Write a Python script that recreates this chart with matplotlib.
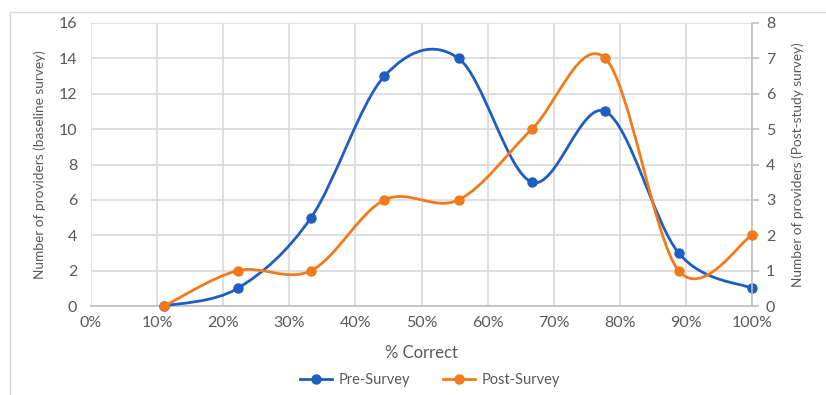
import matplotlib
matplotlib.use("Agg")
import matplotlib.pyplot as plt
from matplotlib.path import Path
from matplotlib.patches import PathPatch, Rectangle
from matplotlib.lines import Line2D
import numpy as np

plt.rcParams['font.family'] = ['Lato', 'DejaVu Sans']

# Data
pct_correct = [11.1, 22.2, 33.3, 44.4, 55.6, 66.7, 77.8, 88.9, 100.0]
pre_survey = [0, 1, 5, 13, 14, 7, 11, 3, 1]
post_survey = [0, 1, 1, 3, 3, 5, 7, 1, 2]
x_ticks = [0, 10, 20, 30, 40, 50, 60, 70, 80, 90, 100]
x_tick_labels = ['0%', '10%', '20%', '30%', '40%', '50%', '60%', '70%', '80%', '90%', '100%']
left_ticks = [0, 2, 4, 6, 8, 10, 12, 14, 16]
right_ticks = [0, 1, 2, 3, 4, 5, 6, 7, 8]

BLUE = '#1F5DC0'
ORANGE = '#F27A1A'
GRID = '#D9D9D9'
TXT = '#595959'


def smooth_path(x, y):
    pts = np.column_stack([x, y]).astype(float)
    n = len(pts)
    verts = [pts[0]]
    codes = [Path.MOVETO]
    for i in range(n - 1):
        p0 = pts[i - 1] if i > 0 else pts[i]
        p1 = pts[i]
        p2 = pts[i + 1]
        p3 = pts[i + 2] if i + 2 < n else pts[i + 1]
        c1 = p1 + (p2 - p0) / 6.0
        c2 = p2 - (p3 - p1) / 6.0
        verts += [c1, c2, p2]
        codes += [Path.CURVE4] * 3
    return Path(np.array(verts), codes)


fig = plt.figure(figsize=(8.26, 3.95), dpi=100)
ax = fig.add_axes([91 / 826, 1 - 306 / 395, (752 - 91) / 826, (306 - 23) / 395])
ax2 = ax.twinx()

# outer chart border
fig.patches.append(Rectangle((10 / 826, -0.1), 1.2, 1 - 12 / 395 + 0.1,
                             transform=fig.transFigure, fill=False,
                             edgecolor='#D9D9D9', linewidth=1.0))

ax.set_xlim(0, 100)
ax.set_ylim(0, 16)
ax2.set_ylim(0, 8)

ax.set_xticks(x_ticks)
ax.set_xticklabels(x_tick_labels)
ax.set_yticks(left_ticks)
ax2.set_yticks(right_ticks)

ax.grid(True, color=GRID, linewidth=1.2)
ax.set_axisbelow(True)

for a in (ax, ax2):
    for s in ('top', 'left', 'right', 'bottom'):
        a.spines[s].set_visible(False)
ax.spines['bottom'].set_visible(True)
ax.spines['bottom'].set_color('#BFBFBF')
ax.spines['bottom'].set_linewidth(1.2)
ax2.spines['right'].set_visible(True)
ax2.spines['right'].set_color('#BFBFBF')
ax2.spines['right'].set_linewidth(1.2)

ax.tick_params(axis='x', length=0, pad=7, labelsize=11.5, labelcolor=TXT)
ax.tick_params(axis='y', length=0, pad=10, labelsize=11.5, labelcolor=TXT)
ax2.tick_params(axis='y', length=5, width=1.2, color='#BFBFBF', pad=5,
                labelsize=11.5, labelcolor=TXT)

ax.set_ylabel('Number of providers (baseline survey)', fontsize=9.8, color=TXT, labelpad=9)
ax2.set_ylabel('Number of providers (Post-study survey)', fontsize=9.8, color=TXT, labelpad=12)
ax.set_xlabel('% Correct', fontsize=12, color=TXT, labelpad=11)

# Pre-survey (primary axis)
ax.add_patch(PathPatch(smooth_path(pct_correct, pre_survey), facecolor='none',
                       edgecolor=BLUE, linewidth=2.0, clip_on=False, zorder=3))
ax.plot(pct_correct, pre_survey, linestyle='none', marker='o', markersize=6.5,
        color=BLUE, clip_on=False, zorder=4)

# Post-survey (secondary axis)
ax2.add_patch(PathPatch(smooth_path(pct_correct, post_survey), facecolor='none',
                        edgecolor=ORANGE, linewidth=2.0, clip_on=False, zorder=3))
ax2.plot(pct_correct, post_survey, linestyle='none', marker='o', markersize=6.5,
         color=ORANGE, clip_on=False, zorder=4)

handles = [Line2D([], [], color=BLUE, lw=2, marker='o', markersize=6.5),
           Line2D([], [], color=ORANGE, lw=2, marker='o', markersize=6.5)]
fig.legend(handles, ['Pre-Survey', 'Post-Survey'], loc='center',
           bbox_to_anchor=(430 / 826, 1 - 380 / 395), ncol=2, frameon=False,
           fontsize=10.5, labelcolor=TXT, handlelength=2.2, columnspacing=2.3,
           handletextpad=0.4)

fig.savefig('out.png', dpi=100)
